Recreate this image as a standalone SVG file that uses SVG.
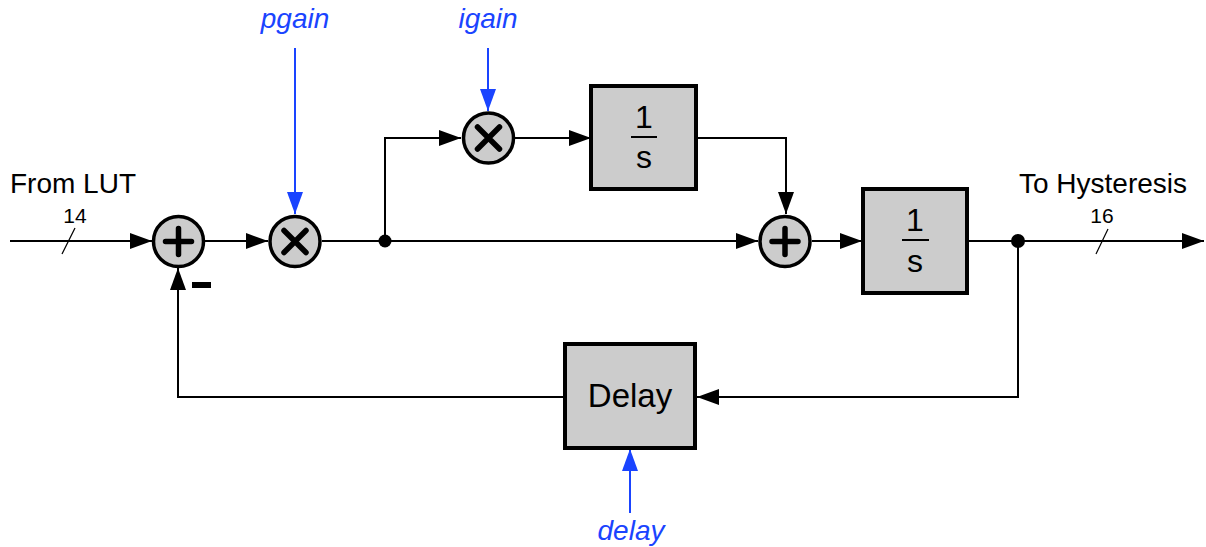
<svg xmlns="http://www.w3.org/2000/svg" width="1206" height="547" viewBox="0 0 1206 547">
<style>
.bg{fill:#ffffff}
.wire{fill:none;stroke:#000;stroke-width:2}
.blue{fill:none;stroke:#1a44ff;stroke-width:2}
.tick{fill:none;stroke:#000;stroke-width:1.2}
.op{fill:#cccccc;stroke:#000;stroke-width:3.5}
.blk{fill:#cccccc;stroke:#000;stroke-width:4}
.sym{fill:none;stroke:#000;stroke-width:5.5;stroke-linecap:round}
.frac{stroke:#000;stroke-width:2}
.lbl{font-family:"Liberation Sans",Arial,sans-serif;font-size:28px;fill:#000}
.num{font-family:"Liberation Sans",Arial,sans-serif;font-size:21px;fill:#000}
.par{font-family:"Liberation Sans",Arial,sans-serif;font-size:28px;font-style:italic;fill:#1a44ff}
.big{font-family:"Liberation Sans",Arial,sans-serif;font-size:32px;fill:#000}
</style>
<defs>
<marker id="ah" markerUnits="userSpaceOnUse" markerWidth="22" markerHeight="16" refX="22" refY="8" orient="auto"><path d="M0,0 L22,8 L0,16 Z" fill="#000"/></marker>
<marker id="ahb" markerUnits="userSpaceOnUse" markerWidth="22" markerHeight="16" refX="22" refY="8" orient="auto"><path d="M0,0 L22,8 L0,16 Z" fill="#1a44ff"/></marker>
</defs>
<rect class="bg" x="0" y="0" width="1206" height="547"/>

<g id="connectors">
<path class="wire" d="M10,241 H152" marker-end="url(#ah)"/>
<path class="tick" d="M62,254 L75,228"/>
<path class="wire" d="M205,241 H268" marker-end="url(#ah)"/>
<path class="wire" d="M322,241 H758" marker-end="url(#ah)"/>
<path class="wire" d="M385,241 V138 H461" marker-end="url(#ah)"/>
<path class="wire" d="M515,138 H591" marker-end="url(#ah)"/>
<path class="wire" d="M696,138 H786 V214" marker-end="url(#ah)"/>
<path class="wire" d="M812,241 H862" marker-end="url(#ah)"/>
<path class="wire" d="M967,241 H1204" marker-end="url(#ah)"/>
<path class="tick" d="M1096,254 L1108,229"/>
<path class="wire" d="M1018,241 V397 H697" marker-end="url(#ah)"/>
<path class="wire" d="M565,397 H178 V268" marker-end="url(#ah)"/>
<path class="blue" d="M295,48 V214" marker-end="url(#ahb)"/>
<path class="blue" d="M488,48 V111" marker-end="url(#ahb)"/>
<path class="blue" d="M630,513 V449" marker-end="url(#ahb)"/>
<circle cx="385" cy="241" r="6.5" fill="#000"/>
<circle cx="1018" cy="241" r="7" fill="#000"/>
</g>

<g id="labels">
<text class="lbl" x="10" y="193">From LUT</text>
<text class="num" x="75" y="223" text-anchor="middle">14</text>
<text class="lbl" x="1103" y="193" text-anchor="middle">To Hysteresis</text>
<text class="num" x="1102" y="223" text-anchor="middle">16</text>
<text class="par" x="295" y="28" text-anchor="middle">pgain</text>
<text class="par" x="488" y="28" text-anchor="middle">igain</text>
<text class="par" x="631" y="540" text-anchor="middle">delay</text>
</g>

<g id="sum1">
<circle class="op" cx="178.5" cy="241.5" r="25"/>
<path class="sym" d="M165.5,241.5 H191.5 M178.5,228.5 V254.5"/>
<rect x="192" y="282" width="19" height="6" fill="#000"/>
</g>

<g id="mult1">
<circle class="op" cx="295" cy="241.5" r="25"/>
<path class="sym" d="M284,230.5 L306,252.5 M306,230.5 L284,252.5"/>
</g>

<g id="mult2">
<circle class="op" cx="488.5" cy="138" r="25"/>
<path class="sym" d="M477.5,127 L499.5,149 M499.5,127 L477.5,149"/>
</g>

<g id="integrator1">
<rect class="blk" x="591" y="86" width="105" height="103"/>
<text class="big" x="644" y="128" text-anchor="middle">1</text>
<line class="frac" x1="631" y1="137" x2="657" y2="137"/>
<text class="big" x="644" y="168" text-anchor="middle">s</text>
</g>

<g id="sum2">
<circle class="op" cx="785" cy="241.5" r="25"/>
<path class="sym" d="M772,241.5 H798 M785,228.5 V254.5"/>
</g>

<g id="integrator2">
<rect class="blk" x="863" y="189" width="104" height="104"/>
<text class="big" x="915" y="231" text-anchor="middle">1</text>
<line class="frac" x1="902" y1="240" x2="929" y2="240"/>
<text class="big" x="915" y="272" text-anchor="middle">s</text>
</g>

<g id="delay">
<rect class="blk" x="565" y="344" width="130" height="104"/>
<text class="big" x="630" y="407" text-anchor="middle" style="font-size:33px">Delay</text>
</g>
</svg>
